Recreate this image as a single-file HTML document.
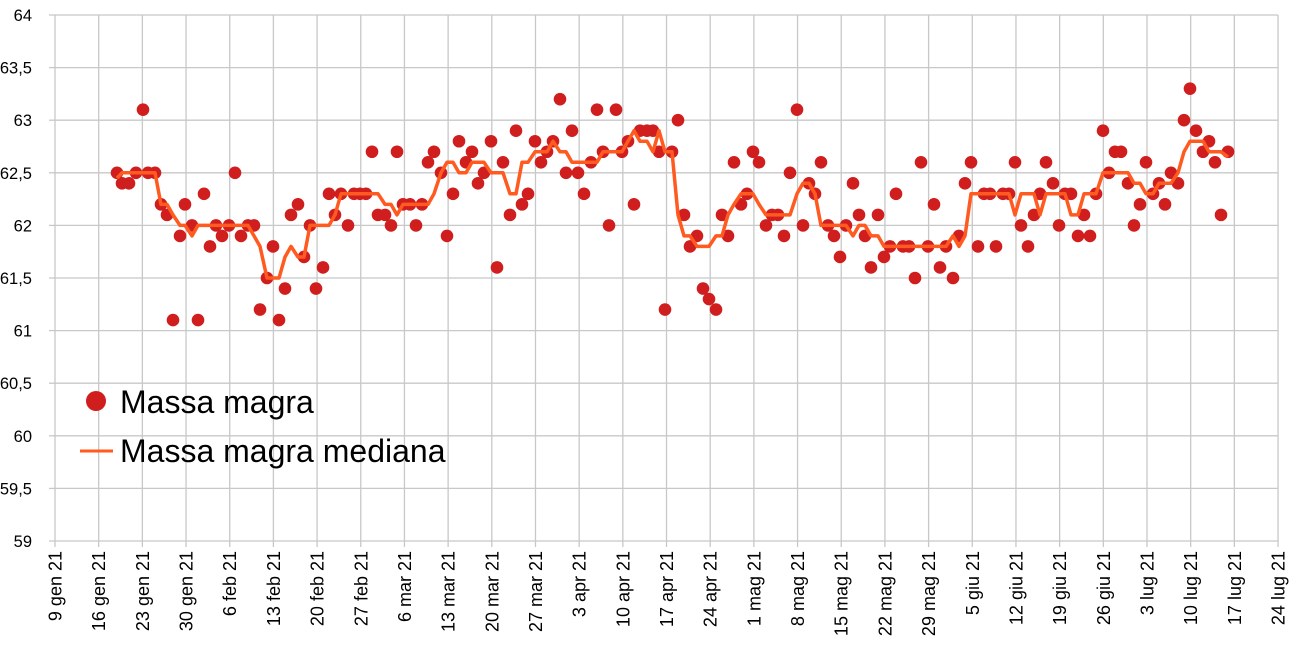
<!DOCTYPE html>
<html><head><meta charset="utf-8"><style>
html,body{margin:0;padding:0;background:#fff;}
svg{display:block;font-family:"Liberation Sans",sans-serif;}
</style></head><body>
<svg id="s" width="1298" height="649" xmlns="http://www.w3.org/2000/svg"></svg>
<script>
const s=document.getElementById('s');const NS='http://www.w3.org/2000/svg';
function el(t,a,txt){const e=document.createElementNS(NS,t);for(const k in a)e.setAttribute(k,a[k]);if(txt!==undefined)e.textContent=txt;s.appendChild(e);return e;}
const X0=55,DX=43.68,Y=v=>541-(v-59)*105.2;
for(let i=0;i<=10;i++){const v=59+i*0.5,y=Y(v);el('line',{x1:X0,x2:1278,y1:y,y2:y,stroke:'#c8c8c8','stroke-width':1.3});
el('text',{x:32,y:y+6,'text-anchor':'end','font-size':16.5,fill:'#000'},(Number.isInteger(v)?v:v.toString().replace('.',',')));
el('line',{x1:X0-6,x2:X0,y1:y,y2:y,stroke:'#c8c8c8','stroke-width':1.3});}
const labs=['9 gen 21','16 gen 21','23 gen 21','30 gen 21','6 feb 21','13 feb 21','20 feb 21','27 feb 21','6 mar 21','13 mar 21','20 mar 21','27 mar 21','3 apr 21','10 apr 21','17 apr 21','24 apr 21','1 mag 21','8 mag 21','15 mag 21','22 mag 21','29 mag 21','5 giu 21','12 giu 21','19 giu 21','26 giu 21','3 lug 21','10 lug 21','17 lug 21','24 lug 21'];
labs.forEach((l,i)=>{const x=X0+i*DX;el('line',{x1:x,x2:x,y1:15,y2:547,stroke:'#c8c8c8','stroke-width':1.3});
el('text',{transform:`translate(${x+6.5},${551}) rotate(-90)`,'text-anchor':'end','font-size':18,fill:'#000'},l);});
const P=[[117,62.5],[122,62.4],[129,62.4],[136,62.5],[143,63.1],[148,62.5],[155,62.5],[161,62.2],[167,62.1],[173,61.1],[180,61.9],[185,62.2],[192,62.0],[198,61.1],[204,62.3],[210,61.8],[216,62.0],[222,61.9],[229,62.0],[235,62.5],[241,61.9],[248,62.0],[254,62.0],[260,61.2],[267,61.5],[273,61.8],[279,61.1],[285,61.4],[291,62.1],[298,62.2],[304,61.7],[310,62.0],[316,61.4],[323,61.6],[329,62.3],[335,62.1],[341,62.3],[348,62.0],[354,62.3],[360,62.3],[366,62.3],[372,62.7],[378,62.1],[385,62.1],[391,62.0],[397,62.7],[403,62.2],[410,62.2],[416,62.0],[422,62.2],[428,62.6],[434,62.7],[441,62.5],[447,61.9],[453,62.3],[459,62.8],[466,62.6],[472,62.7],[478,62.4],[484,62.5],[491,62.8],[497,61.6],[503,62.6],[510,62.1],[516,62.9],[522,62.2],[528,62.3],[535,62.8],[541,62.6],[547,62.7],[553,62.8],[560,63.2],[566,62.5],[572,62.9],[578,62.5],[584,62.3],[591,62.6],[597,63.1],[603,62.7],[609,62.0],[616,63.1],[622,62.7],[628,62.8],[634,62.2],[640,62.9],[647,62.9],[653,62.9],[659,62.7],[665,61.2],[672,62.7],[678,63.0],[684,62.1],[690,61.8],[697,61.9],[703,61.4],[709,61.3],[716,61.2],[722,62.1],[728,61.9],[734,62.6],[741,62.2],[747,62.3],[753,62.7],[759,62.6],[766,62.0],[772,62.1],[778,62.1],[784,61.9],[790,62.5],[797,63.1],[803,62.0],[809,62.4],[815,62.3],[821,62.6],[828,62.0],[834,61.9],[840,61.7],[846,62.0],[853,62.4],[859,62.1],[865,61.9],[871,61.6],[878,62.1],[884,61.7],[890,61.8],[896,62.3],[903,61.8],[909,61.8],[915,61.5],[921,62.6],[928,61.8],[934,62.2],[940,61.6],[946,61.8],[953,61.5],[959,61.9],[965,62.4],[971,62.6],[978,61.8],[984,62.3],[990,62.3],[996,61.8],[1003,62.3],[1009,62.3],[1015,62.6],[1021,62.0],[1028,61.8],[1034,62.1],[1040,62.3],[1046,62.6],[1053,62.4],[1059,62.0],[1065,62.3],[1071,62.3],[1078,61.9],[1084,62.1],[1090,61.9],[1096,62.3],[1103,62.9],[1109,62.5],[1115,62.7],[1121,62.7],[1128,62.4],[1134,62.0],[1140,62.2],[1146,62.6],[1153,62.3],[1159,62.4],[1165,62.2],[1171,62.5],[1178,62.4],[1184,63.0],[1190,63.3],[1196,62.9],[1203,62.7],[1209,62.8],[1215,62.6],[1221,62.1],[1228,62.7]];
let d='';P.forEach((p,i)=>{const w=P.slice(Math.max(0,i-3),Math.min(P.length,i+4)).map(q=>q[1]).sort((a,b)=>a-b);
const m=w.length%2?w[(w.length-1)/2]:(w[w.length/2-1]+w[w.length/2])/2;d+=(i?'L':'M')+p[0]+' '+Y(m).toFixed(1);});
P.forEach(p=>el('circle',{cx:p[0],cy:Y(p[1]),r:6.3,fill:'#d01d1d'}));
el('path',{d:d,fill:'none',stroke:'#ff5a1f','stroke-width':3.5,'stroke-linejoin':'round'});
el('circle',{cx:96,cy:401,r:10,fill:'#d01d1d'});
el('text',{x:120,y:413,'font-size':32,fill:'#000'},'Massa magra');
el('line',{x1:80,x2:113,y1:451,y2:451,stroke:'#ff5a1f','stroke-width':3});
el('text',{x:120,y:462,'font-size':32,fill:'#000'},'Massa magra mediana');
</script>
</body></html>
